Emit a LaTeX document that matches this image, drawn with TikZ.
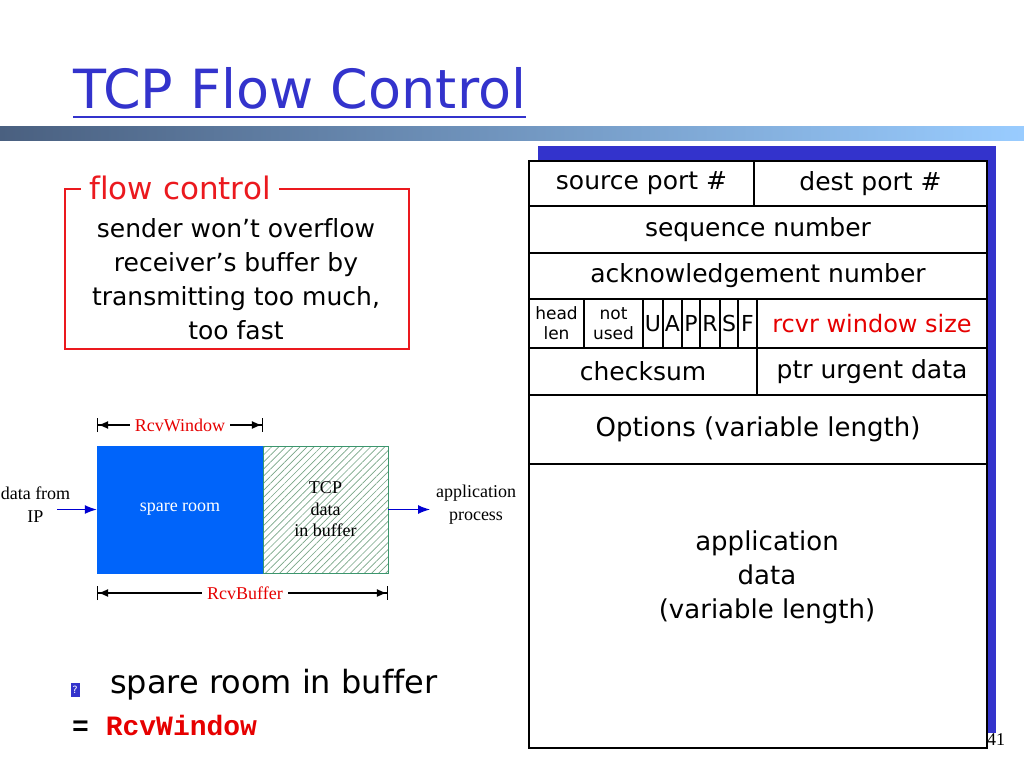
\documentclass[tikz,border=0pt]{standalone}
\usepackage{fontspec}
\setmainfont{DejaVu Sans}[Ligatures=NoCommon]
\newfontfamily\serifface{Liberation Serif}[Ligatures=NoCommon]
\newfontfamily\monoface{Liberation Mono}
\usepackage{tikz}
\usetikzlibrary{calc,positioning}
\usetikzlibrary{patterns.meta}
\usetikzlibrary{arrows.meta}
\tikzset{>={Latex[length=10pt,width=8pt]}}
\definecolor{titleblue}{RGB}{51,51,204}
\definecolor{shadowblue}{RGB}{51,51,204}
\definecolor{bufblue}{RGB}{0,100,250}
\definecolor{fcred}{RGB}{235,25,30}
\definecolor{rcvred}{RGB}{230,0,0}
\definecolor{hatchline}{RGB}{120,165,135}
\definecolor{hatchedge}{RGB}{60,150,110}
\definecolor{barleft}{RGB}{74,96,128}
\definecolor{barright}{RGB}{153,204,255}
\definecolor{arrowblue}{RGB}{0,0,210}

\begin{document}
\begin{tikzpicture}[x=1pt,y=-1pt]
      \tikzstyle{fld} = [draw=black, line width=2pt, fill=white, anchor=north west, inner sep=0pt, align=center, font=\fontsize{25}{30}\selectfont]
      \tikzstyle{smallfld} = [fld, font=\fontsize{17}{20}\selectfont]
      \tikzstyle{flag} = [fld, font=\fontsize{22}{24}\selectfont]
      \tikzstyle{bufbox} = [minimum height=127, inner sep=0pt, align=center, font=\serifface\fontsize{18}{21.5}\selectfont]
      \tikzstyle{serifnode} = [align=center, font=\serifface\fontsize{18}{23}\selectfont]
      \tikzstyle{dimline} = [black, line width=1.2pt, {Bar[width=14pt]Latex[length=10pt,width=8pt]}-{Latex[length=10pt,width=8pt]Bar[width=14pt]}]
      \tikzstyle{dimlabel} = [fill=white, inner xsep=5pt, inner ysep=1pt, text=rcvred, font=\serifface\fontsize{18}{22}\selectfont]
      \tikzstyle{flowarrow} = [arrowblue, line width=1.2pt, -{Latex[length=12pt,width=9pt]}]

      \useasboundingbox (0,0) rectangle (1024,768);

      % title and bar
      \node[anchor=base west, inner sep=0pt, text=titleblue, font=\fontsize{54}{60}\selectfont] (title) at (73,108) {TCP Flow Control};
      \draw[titleblue, line width=2pt] ($(title.base west)+(0,9)$) -- ($(title.base east)+(0,9)$);
      \shade[left color=barleft, right color=barright] (0,126) rectangle (1024,140);

      % flow control box
      \node[draw=fcred, line width=2.5pt, minimum width=344, minimum height=160] (fcbox) at (237,269) {};
      \node[fill=white, inner xsep=8pt, inner ysep=2pt, text=fcred, font=\fontsize{31}{36}\selectfont] (fctitle) at (180,188) {flow control};
      \node[align=center, font=\fontsize{25}{34}\selectfont] (fcbody) at (236,279) {sender won’t overflow\\ receiver’s buffer by\\ transmitting too much,\\ too fast};

      % receive buffer
      \node[bufbox, fill=bufblue, draw=bufblue, minimum width=166, text=white] (spare) at (180,509.5) {spare room};
      \node[bufbox, draw=hatchedge, pattern={Lines[angle=45,distance=5pt,line width=0.7pt]}, pattern color=hatchline, minimum width=125] (inbuf) at (325.5,509.5) {TCP\\ data\\ in buffer};

      \coordinate (rwl) at (97,425);
      \coordinate (rwr) at (263,425);
      \draw[dimline] (rwl) -- (rwr);
      \node[dimlabel] (rwlabel) at ($(rwl)!0.5!(rwr)$) {RcvWindow};

      \coordinate (rbl) at (97,593);
      \coordinate (rbr) at (388,593);
      \draw[dimline] (rbl) -- (rbr);
      \node[dimlabel] (rblabel) at (245,593) {RcvBuffer};

      \node[serifnode] (ipsrc) at (35.5,505) {data from\\ IP};
      \coordinate (ipend) at (57,509.5);
      \draw[flowarrow] (ipend) -- (spare.west);

      \node[serifnode] (appproc) at (476,505) {application\\ process};
      \coordinate (append) at (430,509.5);
      \draw[flowarrow] (inbuf.east) -- (append);

      % bottom left
      \node[fill=titleblue, text=white, inner sep=0pt, minimum width=9, minimum height=14, font=\fontsize{10}{12}\selectfont] (qbullet) at (75,690) {?};
      \node[anchor=base west, inner sep=0pt, font=\fontsize{32}{38}\selectfont] (spareroom) at (110,693) {spare room in buffer};
      \node[anchor=base west, inner sep=0pt, font=\monoface\bfseries\fontsize{28}{32}\selectfont] (eqwin) at (72,735) {= \textcolor{rcvred}{RcvWindow}};

      % TCP segment
      \fill[shadowblue] (538,146) rectangle (996,733);
      \node[font=\serifface\fontsize{18}{20}\selectfont] (pagenum) at (996,740) {41};

      \node[fld, minimum width=225, minimum height=45] (srcport) at (528,160) {source port \#};
      \node[fld, minimum width=233, minimum height=45] (dstport) at (753,160) {dest port \#};
      \node[fld, minimum width=458, minimum height=47] (seqnum) at (528,205) {sequence number};
      \node[fld, minimum width=458, minimum height=46] (acknum) at (528,252) {acknowledgement number};
      \node[smallfld, minimum width=55, minimum height=49] (hdrlen) at (528,298) {head\\ len};
      \node[smallfld, minimum width=59, minimum height=49] (unused) at (583,298) {not\\ used};
      \foreach \f/\x/\w in {U/642/20,A/662/19,P/681/18,R/699/20,S/719/18,F/737/19}
        \node[flag, minimum width=\w, minimum height=49] (flag\f) at (\x,298) {\f};
      \node[fld, minimum width=230, minimum height=49, text=rcvred, font=\fontsize{24}{28}\selectfont] (rcvwin) at (756,298) {rcvr window size};
      \node[fld, minimum width=228, minimum height=47] (cksum) at (528,347) {checksum};
      \node[fld, minimum width=230, minimum height=47] (urgptr) at (756,347) {ptr urgent data};
      \node[fld, minimum width=458, minimum height=69, font=\fontsize{26}{30}\selectfont] (options) at (528,394) {Options (variable length)};
      \node[fld, minimum width=458, minimum height=284] (appdata) at (528,463) {};
      \node[align=center, font=\fontsize{26}{34}\selectfont] (apptext) at (767,577) {application\\ data\\ (variable length)};

\end{tikzpicture}
\end{document}
